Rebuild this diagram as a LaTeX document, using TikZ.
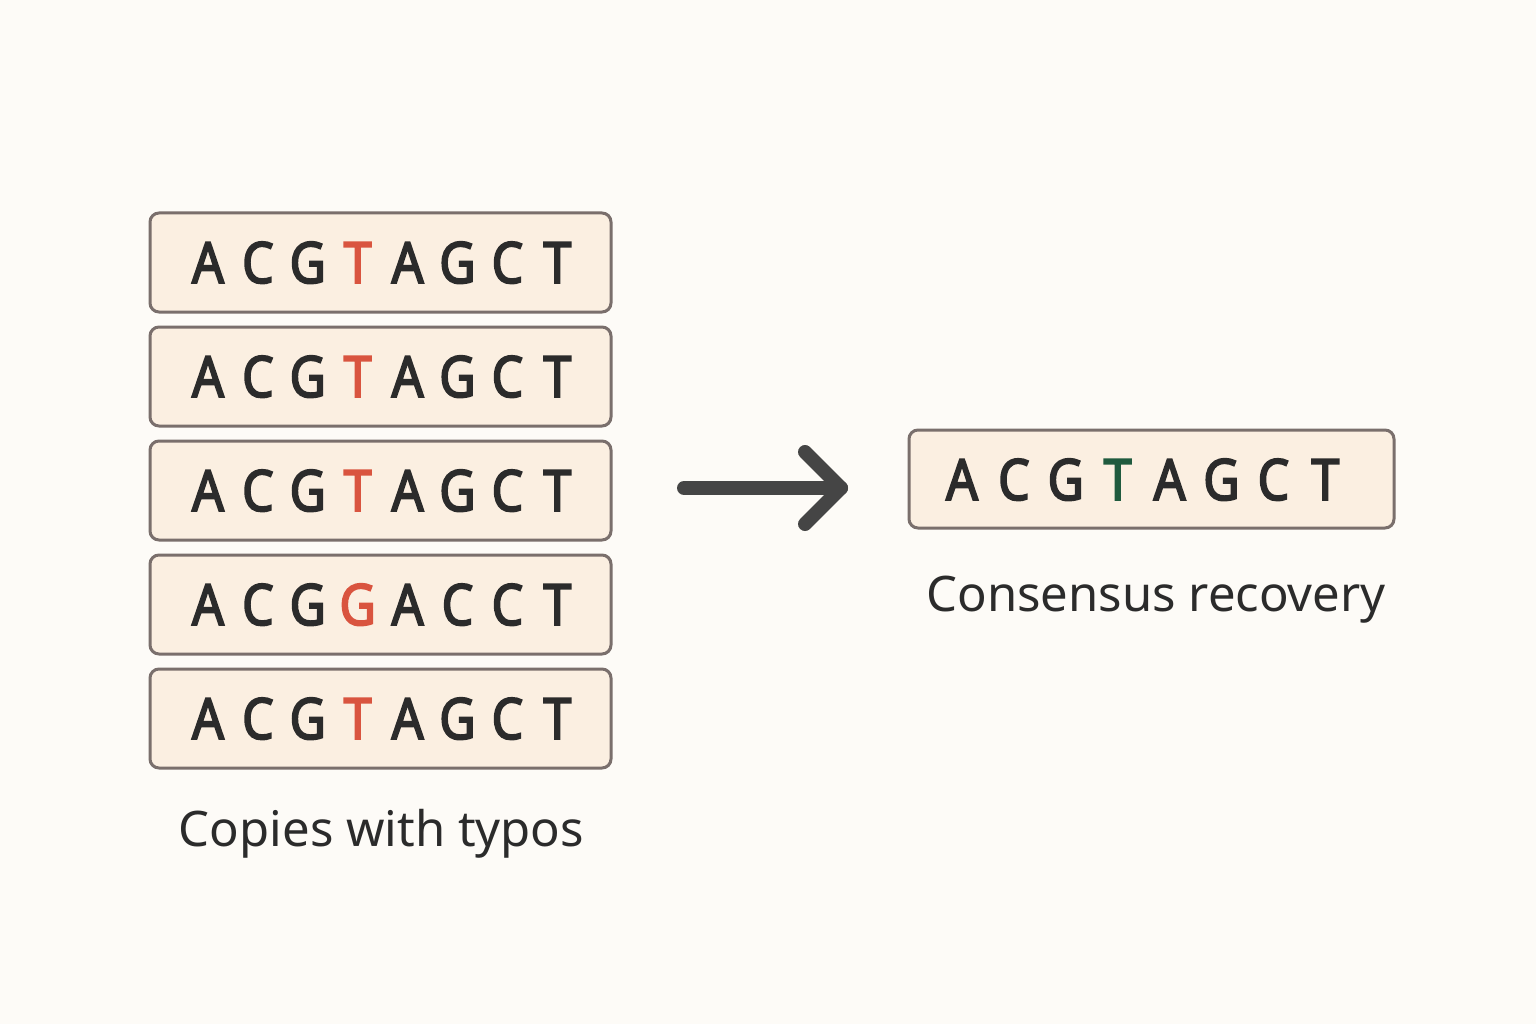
\documentclass[tikz,border=0pt]{standalone}
\usepackage{fontspec}
\setmainfont{Noto Sans}
\newfontfamily\seqfont[FakeStretch=0.88,FakeBold=3]{Noto Sans}
\definecolor{bg}{HTML}{FDFBF7}
\definecolor{boxfill}{HTML}{FBEFE1}
\definecolor{boxline}{HTML}{7A6F6C}
\definecolor{ink}{HTML}{2B2B2B}
\definecolor{typo}{HTML}{D9543F}
\definecolor{fixed}{HTML}{1F5A3E}
\definecolor{arrowc}{HTML}{454545}
\begin{document}
\begin{tikzpicture}[x=1pt,y=-1pt,
  seqbox/.style={draw=boxline,fill=boxfill,line width=3pt,rounded corners=9pt,inner sep=0pt},
  base/.style={font=\seqfont\fontsize{57}{60}\selectfont,text=ink,anchor=base,inner sep=0pt},
  caption/.style={font=\fontsize{49}{52}\selectfont,text=ink,anchor=base,inner sep=0pt}]
\path[use as bounding box,fill=bg] (0,0) rectangle (1536,1024);
% copy boxes
\foreach \i/\top/\s in {1/213/{A,C,G,T,A,G,C,T},2/327/{A,C,G,T,A,G,C,T},3/441/{A,C,G,T,A,G,C,T},4/555/{A,C,G,G,A,C,C,T},5/669/{A,C,G,T,A,G,C,T}}{
  \node[seqbox,minimum width=461pt,minimum height=99pt] (row\i) at (380.5,\top+49.5) {};
  \foreach \c [count=\k] in \s {
    \pgfmathsetmacro{\xx}{208+(\k-1)*49.9}
    \ifnum\k=4
      \node[base,text=typo] (row\i l\k) at (\xx,\top+70) {\c};
    \else
      \node[base] (row\i l\k) at (\xx,\top+70) {\c};
    \fi
  }
}
\node[caption] (cap1) at (381.5,846) {Copies with typos};
% consensus
\node[seqbox,minimum width=485pt,minimum height=98pt] (cons) at (1151.5,479) {};
\foreach \c [count=\k] in {A,C,G,T,A,G,C,T} {
  \pgfmathsetmacro{\xx}{962+(\k-1)*51.9}
  \ifnum\k=4
    \node[base,text=fixed] (cons l\k) at (\xx,500) {\c};
  \else
    \node[base] (cons l\k) at (\xx,500) {\c};
  \fi
}
\node[caption] (cap2) at (1156,611) {Consensus recovery};
% arrow
\coordinate (arrS) at (684,488);
\coordinate (arrE) at (841,488);
\coordinate (arrT) at (805,452);
\coordinate (arrB) at (805,524);
\draw[arrowc,line width=14pt,line cap=round,line join=round] (arrS) -- (arrE);
\draw[arrowc,line width=14pt,line cap=round,line join=round] (arrT) -- (arrE) -- (arrB);
\end{tikzpicture}
\end{document}
